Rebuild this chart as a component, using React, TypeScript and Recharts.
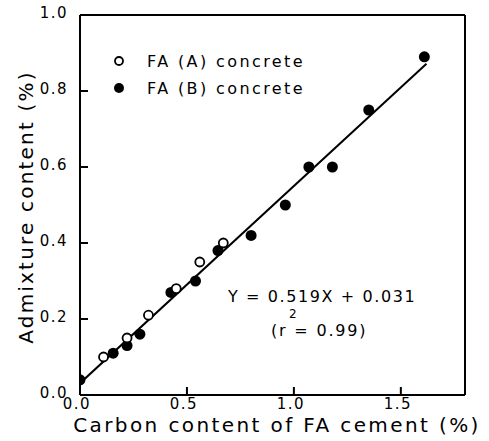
import {
  ReferenceLine,
  Scatter,
  ScatterChart,
  XAxis,
  YAxis,
} from "recharts";

const openX = [0.11, 0.22, 0.32, 0.45, 0.56, 0.67];
const openY = [0.1, 0.15, 0.21, 0.28, 0.35, 0.4];

const filledX = [0.0, 0.155, 0.22, 0.28, 0.425, 0.54, 0.645, 0.8, 0.96, 1.07, 1.18, 1.35, 1.61];
const filledY = [0.04, 0.11, 0.13, 0.16, 0.27, 0.3, 0.38, 0.42, 0.5, 0.6, 0.6, 0.75, 0.89];

// regression line end points (Y = 0.519X + 0.031)
const fitX = [0.0, 1.62];
const fitY = [0.031, 0.872];

const xTicks = [0, 0.5, 1.0, 1.5];
const yTicks = [0, 0.2, 0.4, 0.6, 0.8, 1.0];

const toPts = (xs: number[], ys: number[]) => xs.map((x, i) => ({ x, y: ys[i] }));
const openData = toPts(openX, openY);
const filledData = toPts(filledX, filledY);
const fitData = toPts(fitX, fitY);

const FONT = "'DejaVu Sans', sans-serif";

const XTick = ({ x, y, payload }: any) => (
  <g>
    <line x1={x} y1={y} x2={x} y2={y - 8} stroke="#000" strokeWidth={2} />
    <text x={x - 3} y={y + 9} textAnchor="middle" dominantBaseline="central" fontFamily={FONT} fontSize={15} letterSpacing={1.5} fill="#000">
      {payload.value.toFixed(1)}
    </text>
  </g>
);

const YTick = ({ x, y, payload }: any) => (
  <g>
    <line x1={x} y1={y} x2={x + 8} y2={y} stroke="#000" strokeWidth={2} />
    <text x={x - 12} y={y - 2} textAnchor="end" dominantBaseline="central" fontFamily={FONT} fontSize={15} letterSpacing={1.5} fill="#000">
      {payload.value.toFixed(1)}
    </text>
  </g>
);

const OpenDot = ({ cx, cy }: any) => (
  <circle cx={cx} cy={cy} r={4.5} fill="#fff" stroke="#000" strokeWidth={1.8} />
);
const FilledDot = ({ cx, cy }: any) => <circle cx={cx} cy={cy} r={5.5} fill="#000" />;
const NoDot = () => <g />;

export default function App() {
  return (
    <div style={{ position: "absolute", left: 0, top: 0, background: "#fff" }}>
      <ScatterChart width={489} height={441} margin={{ top: 15, right: 24, bottom: 0, left: 20 }}>
        <XAxis
          type="number"
          dataKey="x"
          domain={[0, 1.8]}
          ticks={xTicks}
          tick={<XTick />}
          tickLine={false}
          tickSize={0}
          tickMargin={0}
          height={46}
          axisLine={{ stroke: "#000", strokeWidth: 2 }}
          allowDataOverflow
        />
        <YAxis
          type="number"
          dataKey="y"
          domain={[0, 1]}
          ticks={yTicks}
          tick={<YTick />}
          tickLine={false}
          tickSize={0}
          tickMargin={0}
          width={60}
          axisLine={{ stroke: "#000", strokeWidth: 2 }}
          allowDataOverflow
        />
        <ReferenceLine y={1} stroke="#000" strokeWidth={2} />
        <ReferenceLine x={1.8} stroke="#000" strokeWidth={2} />
        <Scatter
          data={fitData}
          line={{ stroke: "#000", strokeWidth: 2 }}
          shape={NoDot}
          isAnimationActive={false}
        />
        <Scatter data={filledData} shape={FilledDot} isAnimationActive={false} />
        <Scatter data={openData} shape={OpenDot} isAnimationActive={false} />

        <text
          transform="translate(26,207) rotate(-90)"
          textAnchor="middle"
          dominantBaseline="central"
          fontFamily={FONT}
          fontSize={20}
          letterSpacing={2.2}
          fill="#000"
        >
          Admixture content (%)
        </text>
        <text
          x={277}
          y={425}
          textAnchor="middle"
          dominantBaseline="central"
          fontFamily={FONT}
          fontSize={20}
          letterSpacing={2.4}
          fill="#000"
        >
          Carbon content of FA cement (%)
        </text>

        <circle cx={119} cy={61} r={4} fill="#fff" stroke="#000" strokeWidth={1.8} />
        <circle cx={119} cy={88} r={5} fill="#000" />
        <text x={147} y={61} dominantBaseline="central" fontFamily={FONT} fontSize={16} letterSpacing={2.4} fill="#000">
          FA (A) concrete
        </text>
        <text x={147} y={88} dominantBaseline="central" fontFamily={FONT} fontSize={16} letterSpacing={2.4} fill="#000">
          FA (B) concrete
        </text>

        <text x={228} y={296} dominantBaseline="central" fontFamily={FONT} fontSize={16} letterSpacing={1.6} fill="#000">
          Y = 0.519X + 0.031
        </text>
        <text x={289} y={314} dominantBaseline="central" fontFamily={FONT} fontSize={12} fill="#000">
          2
        </text>
        <text x={271} y={330} dominantBaseline="central" fontFamily={FONT} fontSize={16} letterSpacing={1.8} fill="#000">
          (r = 0.99)
        </text>
      </ScatterChart>
    </div>
  );
}
